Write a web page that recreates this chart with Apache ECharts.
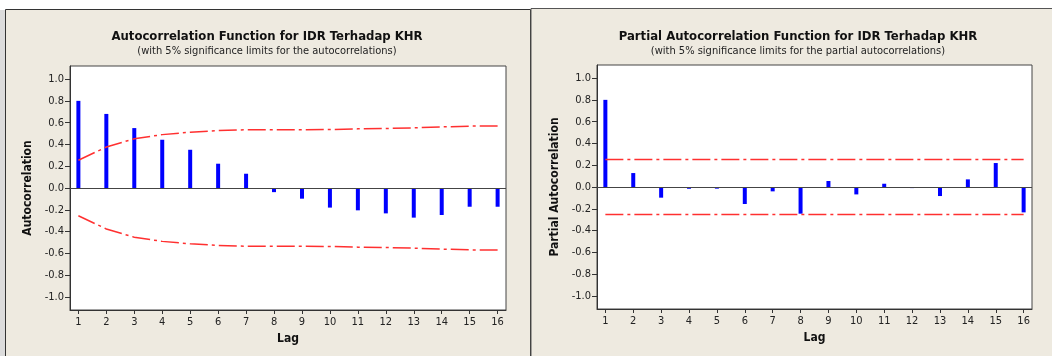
<!DOCTYPE html>
<html>
<head>
<meta charset="utf-8">
<script src="https://cdn.jsdelivr.net/npm/echarts@6/dist/echarts.min.js"></script>
<style>
  html, body { margin: 0; padding: 0; background: #fff; }
  #chart { width: 1052px; height: 356px; }
</style>
</head>
<body>
<div id="chart"></div>
<script>
// lags and y tick positions
const lags = [1, 2, 3, 4, 5, 6, 7, 8, 9, 10, 11, 12, 13, 14, 15, 16];
const yTicks = [-1.0, -0.8, -0.6, -0.4, -0.2, 0.0, 0.2, 0.4, 0.6, 0.8, 1.0];

// ACF values
const acfValues = [0.80, 0.68, 0.55, 0.443, 0.351, 0.223, 0.131, -0.038, -0.098, -0.18, -0.205, -0.233, -0.272, -0.248, -0.172, -0.172];
const acfUpper = [0.255, 0.376, 0.452, 0.49, 0.512, 0.527, 0.535, 0.535, 0.535, 0.537, 0.543, 0.546, 0.552, 0.561, 0.568, 0.569];
const acfLower = [-0.255, -0.376, -0.452, -0.49, -0.512, -0.527, -0.535, -0.535, -0.535, -0.537, -0.543, -0.546, -0.552, -0.561, -0.568, -0.569];

// PACF values
const pacfValues = [0.80, 0.128, -0.098, -0.016, -0.015, -0.156, -0.04, -0.245, 0.055, -0.068, 0.03, -0.01, -0.083, 0.07, 0.22, -0.233];
const pacfUpper = [0.252, 0.252, 0.252, 0.252, 0.252, 0.252, 0.252, 0.252, 0.252, 0.252, 0.252, 0.252, 0.252, 0.252, 0.252, 0.252];
const pacfLower = [-0.252, -0.252, -0.252, -0.252, -0.252, -0.252, -0.252, -0.252, -0.252, -0.252, -0.252, -0.252, -0.252, -0.252, -0.252, -0.252];

const FONT = "DejaVu Sans Condensed, DejaVu Sans, sans-serif";

function pairs(ys) {
  return lags.map((l, i) => [l, ys[i]]);
}

function xAxis(gi) {
  return {
    type: "value", gridIndex: gi, min: 0.7, max: 16.3,
    name: "Lag", nameLocation: "middle", nameGap: 21,
    nameTextStyle: { fontFamily: FONT, fontWeight: "bold", fontSize: 12, color: "#111" },
    axisLine: { show: true, onZero: false, lineStyle: { color: "#333", width: 1 } },
    axisTick: { show: true, length: 4, customValues: lags, lineStyle: { color: "#333" } },
    axisLabel: { customValues: lags, fontFamily: FONT, fontSize: 11, color: "#222", margin: 7 },
    splitLine: { show: false },
  };
}

function yAxis(gi, name) {
  return {
    type: "value", gridIndex: gi, min: -1.12, max: 1.12,
    name: name, nameLocation: "middle", nameGap: 36,
    nameTextStyle: { fontFamily: FONT, fontWeight: "bold", fontSize: 12, color: "#111" },
    axisLine: { show: true, lineStyle: { color: "#333", width: 1 } },
    axisTick: { show: true, length: 5, customValues: yTicks, lineStyle: { color: "#333" } },
    axisLabel: {
      customValues: yTicks, fontFamily: FONT, fontSize: 11, color: "#222", margin: 6,
      formatter: (v) => v.toFixed(1),
    },
    splitLine: { show: false },
  };
}

function limitLine(gi, ys) {
  return {
    type: "line", xAxisIndex: gi, yAxisIndex: gi, data: pairs(ys),
    symbol: "none", silent: true,
    lineStyle: { color: "#ff3030", width: 1.5, type: [18, 4, 3, 4] },
  };
}

function bars(gi, ys) {
  return {
    type: "bar", xAxisIndex: gi, yAxisIndex: gi, data: pairs(ys),
    barWidth: 4, silent: true,
    itemStyle: { color: "#0000ff" },
    markLine: {
      silent: true, symbol: "none", label: { show: false },
      lineStyle: { color: "#444", width: 1, type: "solid" },
      data: [{ yAxis: 0 }],
    },
  };
}

const chart = echarts.init(document.getElementById("chart"), null, { renderer: "canvas" });

const option = {
  animation: false,
  backgroundColor: "#fff",
  graphic: [
    { type: "rect", z: -10, shape: { x: 0, y: 10, width: 5, height: 350 }, style: { fill: "#dcdcdc" } },
    { type: "rect", z: -10, shape: { x: 5.5, y: 9.5, width: 525, height: 360 }, style: { fill: "#eeeae0", stroke: "#333", lineWidth: 1 } },
    { type: "rect", z: -10, shape: { x: 531, y: 8.5, width: 530, height: 360 }, style: { fill: "#eeeae0", stroke: "#555", lineWidth: 1 } },
  ],
  title: [
    {
      text: "Autocorrelation Function for IDR Terhadap KHR",
      subtext: "(with 5% significance limits for the autocorrelations)",
      left: 262, top: 25, textAlign: "center", itemGap: 3,
      textStyle: { fontFamily: FONT, fontSize: 13, fontWeight: "bold", color: "#111" },
      subtextStyle: { fontFamily: FONT, fontSize: 11, color: "#222" },
    },
    {
      text: "Partial Autocorrelation Function for IDR Terhadap KHR",
      subtext: "(with 5% significance limits for the partial autocorrelations)",
      left: 793, top: 25, textAlign: "center", itemGap: 3,
      textStyle: { fontFamily: FONT, fontSize: 13, fontWeight: "bold", color: "#111" },
      subtextStyle: { fontFamily: FONT, fontSize: 11, color: "#222" },
    },
  ],
  grid: [
    { left: 70, top: 66, width: 436, height: 244, show: true, backgroundColor: "#fff", borderColor: "#444", borderWidth: 1 },
    { left: 597, top: 65, width: 435, height: 244, show: true, backgroundColor: "#fff", borderColor: "#444", borderWidth: 1 },
  ],
  xAxis: [xAxis(0), xAxis(1)],
  yAxis: [yAxis(0, "Autocorrelation"), yAxis(1, "Partial Autocorrelation")],
  series: [
    bars(0, acfValues),
    limitLine(0, acfUpper),
    limitLine(0, acfLower),
    bars(1, pacfValues),
    limitLine(1, pacfUpper),
    limitLine(1, pacfLower),
  ],
};

chart.setOption(option);
</script>
</body>
</html>
